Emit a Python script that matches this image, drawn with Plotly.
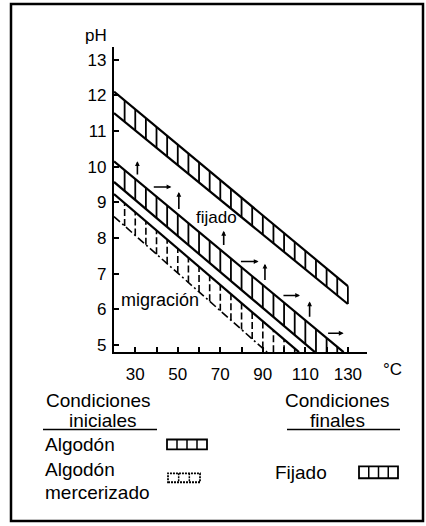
import numpy as np
import plotly.graph_objects as go

# ---------------- data ----------------
# band boundary lines: temperature (°C) -> pH
top_upper_T = [20, 130]; top_upper_pH = [12.1, 6.65]
top_lower_T = [20, 130]; top_lower_pH = [11.5, 6.15]
mid_upper_T = [20, 128]; mid_upper_pH = [10.15, 4.8]
mid_lower_T = [20, 114.5]; mid_lower_pH = [9.57, 4.8]
bot_upper_T = [20, 107]; bot_upper_pH = [9.23, 4.8]
bot_lower_T = [20, 92]; bot_lower_pH = [8.6, 4.8]

# arrows
up_T = [31, 50.5, 71.6, 91, 112]
up_tail_pH = [9.74, 8.77, 7.76, 6.78, 5.75]
up_head_pH = [10.15, 9.29, 8.2, 7.28, 6.22]
right_pH = [9.43, 7.34, 6.39, 5.33]
right_tail_T = [38, 79, 99, 120]
right_head_T = [47, 88, 107.5, 128]

x_ticks = [30, 40, 50, 60, 70, 80, 90, 100, 110, 120, 130]
x_tick_labels = ["30", "", "50", "", "70", "", "90", "", "110", "", "130"]
y_ticks = [5, 6, 7, 8, 9, 10, 11, 12, 13]
y_tick_labels = ["5", "6", "7", "8", "9", "10", "11", "12", "13"]

FONT = "Liberation Sans"
W, H = 426, 526
FLOOR = 4.8

def px(x):
    return x / W

def py(y):
    return 1 - y / H

def hatch(upT, upP, loT, loP, t0, t1, step=5):
    xs, ys = [], []
    for t in np.arange(t0, t1 + 0.01, step):
        u = float(np.interp(t, upT, upP))
        l = max(float(np.interp(t, loT, loP)), FLOOR) if t <= loT[-1] else FLOOR
        if u <= FLOOR:
            continue
        xs += [t, t, None]
        ys += [l, u, None]
    return xs, ys

fig = go.Figure()

def add_line(T, P, dash=None, width=2.2):
    fig.add_trace(go.Scatter(x=T, y=P, mode="lines", hoverinfo="skip",
                             line=dict(color="black", width=width, dash=dash),
                             showlegend=False, cliponaxis=True))

# top band
add_line(top_upper_T, top_upper_pH)
add_line(top_lower_T, top_lower_pH)
hx, hy = hatch(top_upper_T, top_upper_pH, top_lower_T, top_lower_pH, 25, 130)
add_line(hx, hy, width=1.8)
# middle band
add_line(mid_upper_T, mid_upper_pH)
add_line(mid_lower_T, mid_lower_pH)
hx, hy = hatch(mid_upper_T, mid_upper_pH, mid_lower_T, mid_lower_pH, 25, 125)
add_line(hx, hy, width=1.8)
# bottom band (mercerized)
add_line(bot_upper_T, bot_upper_pH)
add_line(bot_lower_T, bot_lower_pH, dash="8px,3px,2px,3px", width=1.6)
hx, hy = hatch(bot_upper_T, bot_upper_pH, bot_lower_T, bot_lower_pH, 25, 105)
add_line(hx, hy, dash="7px,3px", width=1.6)

annotations = []
for t, a, b in zip(up_T, up_tail_pH, up_head_pH):
    annotations.append(dict(x=t, y=b, ax=t, ay=a, xref="x", yref="y", axref="x", ayref="y",
                            showarrow=True, arrowhead=2, arrowsize=0.6, arrowwidth=1.6,
                            arrowcolor="black", text=""))
for p, a, b in zip(right_pH, right_tail_T, right_head_T):
    annotations.append(dict(x=b, y=p, ax=a, ay=p, xref="x", yref="y", axref="x", ayref="y",
                            showarrow=True, arrowhead=2, arrowsize=0.6, arrowwidth=1.6,
                            arrowcolor="black", text=""))

def txt(text, x, y, size=19, xanchor="center", xref="paper", yref="paper"):
    if xref == "paper":
        x, y = px(x), py(y)
    annotations.append(dict(text=text, x=x, y=y, xref=xref, yref=yref, showarrow=False,
                            xanchor=xanchor, yanchor="middle",
                            font=dict(family=FONT, size=size, color="black")))

txt("fijado", 68.1, 8.57, size=17, xref="x", yref="y")
txt("migración", 41.5, 6.25, size=18, xref="x", yref="y")
txt("pH", 96, 36, size=17)
txt("°C", 392, 372, size=17)

txt("Condiciones", 98, 403)
txt("iniciales", 103, 423)
txt("Condiciones", 337, 403)
txt("finales", 337, 423)
txt("Algodón", 43, 447, xanchor="left")
txt("Algodón", 43, 472, xanchor="left")
txt("mercerizado", 43, 495, xanchor="left")
txt("Fijado", 273, 475, xanchor="left")

shapes = []
def pline(x0, y0, x1, y1, w=2, dash=None):
    shapes.append(dict(type="line", xref="paper", yref="paper", x0=px(x0), y0=py(y0),
                       x1=px(x1), y1=py(y1), line=dict(color="black", width=w, dash=dash)))

# outer frame
shapes.append(dict(type="rect", xref="paper", yref="paper", x0=px(11), y0=py(524),
                   x1=px(423), y1=py(4), line=dict(color="black", width=2.5)))
# legend underlines
pline(43, 432, 157, 432, 1.5)
pline(287, 432, 400, 432, 1.5)

def swatch(x0, x1, y0, y1, n, dash=None):
    shapes.append(dict(type="rect", xref="paper", yref="paper", x0=px(x0), y0=py(y1),
                       x1=px(x1), y1=py(y0), line=dict(color="black", width=1.8, dash=dash)))
    for i in range(1, n):
        xx = x0 + (x1 - x0) * i / n
        pline(xx, y0, xx, y1, 1.5, dash)

swatch(167, 207, 442, 452, 4)
swatch(168, 200, 476, 485, 3, dash="2px,1px")
swatch(359, 398, 469, 481, 4)

fig.update_layout(
    width=W, height=H, margin=dict(l=0, r=0, t=0, b=0),
    paper_bgcolor="white", plot_bgcolor="white",
    annotations=annotations, shapes=shapes, showlegend=False,
    xaxis=dict(domain=[px(114), px(367)], range=[20, 139], showgrid=False, zeroline=False,
               showline=True, linecolor="black", linewidth=2.2,
               tickvals=x_ticks, ticktext=x_tick_labels, ticks="inside", ticklen=5,
               tickwidth=1.5, tickcolor="black", ticklabelstandoff=6,
               tickfont=dict(family=FONT, size=17, color="black")),
    yaxis=dict(domain=[py(354), py(47)], range=[FLOOR + 0.005, 13.36], showgrid=False,
               zeroline=False, showline=True, linecolor="black", linewidth=2.2,
               tickvals=y_ticks, ticktext=y_tick_labels, ticks="inside", ticklen=5,
               tickwidth=1.5, tickcolor="black", ticklabelstandoff=2,
               tickfont=dict(family=FONT, size=17, color="black")),
)

fig.write_html("out.html")
